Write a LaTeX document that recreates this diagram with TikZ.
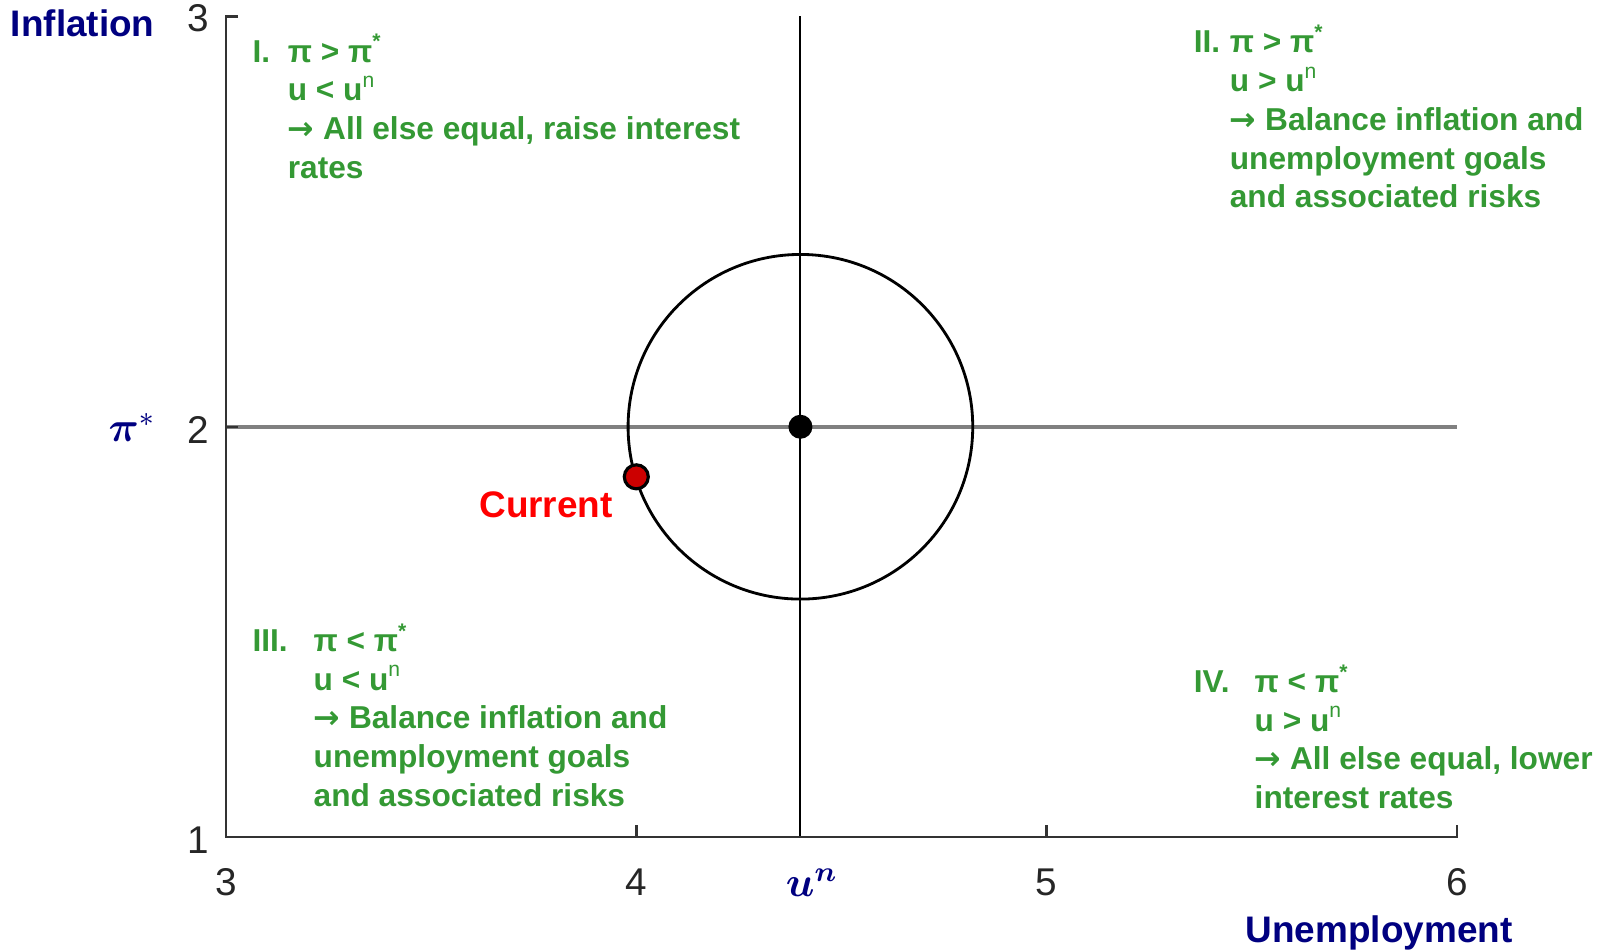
\documentclass[tikz,border=0pt]{standalone}
\usepackage{fontspec}
\setmainfont{Liberation Sans}
\newfontfamily\arrowfont{DejaVu Sans}
\usepackage{bm}
\definecolor{navy}{RGB}{0,0,128}
\definecolor{qgreen}{RGB}{52,153,52}
\definecolor{curred}{RGB}{255,0,0}
\definecolor{dotred}{RGB}{204,0,0}
\newcommand{\rarr}{{\arrowfont\bfseries →}}

\begin{document}
\begin{tikzpicture}[x=4.1cm, y=4.1cm,
  axis/.style={line width=0.7pt, draw=black!80},
  ticklbl/.style={font=\fontsize{11}{13}\selectfont, text=black!85, inner sep=0pt},
  quad/.style={font=\fontsize{9}{11}\selectfont\bfseries, text=qgreen, inner sep=0pt, anchor=base west, align=left},
  axlabel/.style={font=\fontsize{10.5}{12}\selectfont\bfseries, text=navy, inner sep=0pt, anchor=base west},
  dot/.style={circle, inner sep=0pt, minimum size=0.24cm}
]
\useasboundingbox (2.4492,0.7207) rectangle (6.3805,3.0402);
\coordinate (o) at (3,1);
\coordinate (ytop) at (3,3);
\coordinate (ymid) at (3,2);
\coordinate (xend) at (6,1);
\coordinate (xfour) at (4,1);
\coordinate (xfive) at (5,1);
\coordinate (ymidend) at (6,2);
\coordinate (unbot) at (4.4,1);
\coordinate (untop) at (4.4,3);
\coordinate (ctr) at (4.4,2);
\draw[gray, line width=1pt] (ymid) -- (ymidend);
\draw[black, line width=0.6pt] (unbot) -- (untop);
\draw[axis] ([xshift=0.12cm]ytop) -- (ytop) -- (o) -- (xend) -- ([yshift=0.12cm]xend);
\draw[axis] (ymid) -- ([xshift=0.12cm]ymid);
\draw[axis] (xfour) -- ([yshift=0.12cm]xfour);
\draw[axis] (xfive) -- ([yshift=0.12cm]xfive);
\draw[line width=0.8pt] (ctr) circle[radius=0.42];
\node[dot, fill=black] (n0) at (ctr) {};
\node[dot, fill=dotred, draw=black, line width=0.9pt] (cur) at (4.0,1.878) {};
\node[font=\fontsize{10.5}{12}\selectfont\bfseries, text=curred, inner sep=0pt] (curlbl) at (3.780,1.811) {Current};
\node[axlabel] (ylbl) at (2.474,2.952) {Inflation};
\node[axlabel] (xlbl) at (5.4835,0.7426) {Unemployment};
\node[ticklbl] (y3) at (2.933,2.995) {3};
\node[ticklbl] (y2) at (2.933,1.9915) {2};
\node[ticklbl] (y1) at (2.933,0.9915) {1};
\node[ticklbl] (x3) at (3,0.889) {3};
\node[ticklbl] (x4) at (4,0.889) {4};
\node[ticklbl] (x5) at (5,0.889) {5};
\node[ticklbl] (x6) at (6,0.889) {6};
\node[text=navy, font=\large] (pistar) at (2.771,1.999) {$\bm{\pi}^{*}$};
\node[text=navy, font=\large] (unlbl) at (4.428,0.889) {$\bm{u}^{\bm{n}}$};
\node[quad] (q1) at (3.063,2.889) {I.};
\node[quad] (q1t) at (3.149,2.6061) {π > π\textsuperscript{*}\\u < u\textsuperscript{\mdseries n}\\\rarr{} All else equal, raise interest\\rates};
\node[quad] (q2) at (5.357,2.911) {II.};
\node[quad] (q2t) at (5.445,2.5338) {π > π\textsuperscript{*}\\u > u\textsuperscript{\mdseries n}\\\rarr{} Balance inflation and\\unemployment goals\\and associated risks};
\node[quad] (q3) at (3.063,1.4524) {III.};
\node[quad] (q3t) at (3.212,1.0752) {π < π\textsuperscript{*}\\u < u\textsuperscript{\mdseries n}\\\rarr{} Balance inflation and\\unemployment goals\\and associated risks};
\node[quad] (q4) at (5.357,1.3524) {IV.};
\node[quad] (q4t) at (5.5055,1.0695) {π < π\textsuperscript{*}\\u > u\textsuperscript{\mdseries n}\\\rarr{} All else equal, lower\\interest rates};
\end{tikzpicture}
\end{document}
